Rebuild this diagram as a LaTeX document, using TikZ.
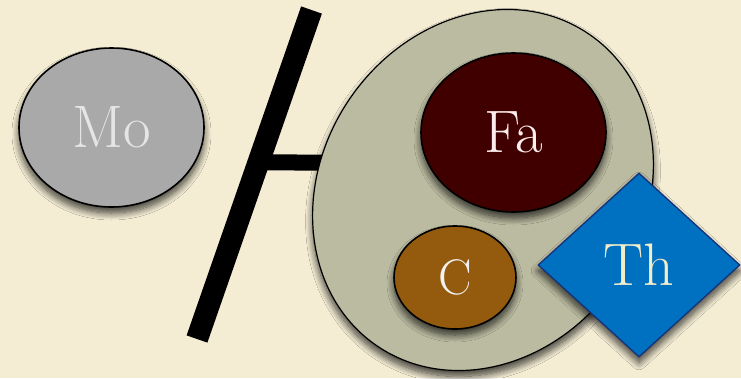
\documentclass[tikz,border=0pt]{standalone}
\usetikzlibrary{shapes.geometric,shadows.blur,calc}
\definecolor{paper}{HTML}{F4EDD4}
\definecolor{bigfill}{HTML}{BBBBA1}
\definecolor{mofill}{HTML}{A9A9A9}
\definecolor{fafill}{HTML}{400000}
\definecolor{cfill}{HTML}{945B0E}
\definecolor{thfill}{HTML}{0070C0}
\definecolor{thline}{HTML}{14337A}
\definecolor{cream}{HTML}{F3EDCC}
\tikzset{
  shad/.style={blur shadow={shadow xshift=0pt,shadow yshift=-6pt,shadow blur radius=7pt,shadow blur steps=12,shadow opacity=75}},
  blob/.style={ellipse,draw=black,line width=1.6pt,inner sep=0pt,shad},
  lab/.style={font=\fontsize{60}{60}\selectfont},
  barline/.style={line width=#1,line cap=butt,draw=black}
}
\begin{document}
\begin{tikzpicture}[x=1pt,y=-1pt]
\fill[paper] (0,0) rectangle (741,378);
\useasboundingbox (0,0) rectangle (741,378);
% slanted bar and stem
\coordinate (bt) at (311.5,10);
\coordinate (bb) at (197,339);
\coordinate (bj) at ($(bt)!0.4635!(bb)$);
\coordinate (he) at (340,162.5);
\draw[barline=22pt] (bt) -- (bb);
\draw[barline=16pt] (bj) -- (he);
% big container ellipse
\node[ellipse,draw=black,line width=1.2pt,fill=bigfill,inner sep=0pt,
      minimum width=323pt,minimum height=377pt,rotate=-34,shad] (big) at (483,190) {};
% inner shapes
\node[blob,fill=fafill,minimum width=185pt,minimum height=159pt,text=white!93!red,lab] (fa) at (513.5,132.5) {Fa};
\node[blob,fill=cfill,minimum width=122pt,minimum height=103pt,text=white!95!black,font=\fontsize{50}{50}\selectfont] (c) at (455,277.5) {C};
\node[diamond,draw=thline,line width=1.3pt,fill=thfill,inner sep=0pt,shape aspect=1.1,
      minimum width=202pt,minimum height=184pt,text=cream,lab,shad] (th) at (639,265) {Th};
\node[blob,fill=mofill,minimum width=185pt,minimum height=159pt,text=white!90!black,lab] (mo) at (111.5,127.5) {Mo};
\end{tikzpicture}
\end{document}
